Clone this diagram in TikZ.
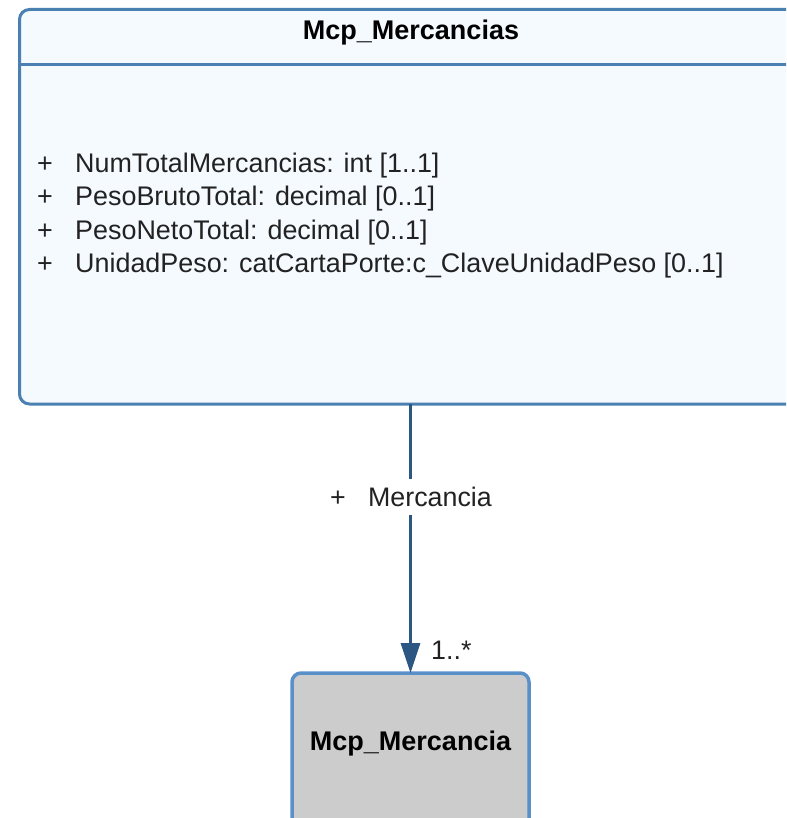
\documentclass[tikz,border=0pt]{standalone}
\usepackage{fontspec}
\setmainfont{Liberation Sans}
\usetikzlibrary{arrows.meta,positioning}
\definecolor{boxfill}{HTML}{F5FAFF}
\definecolor{boxline}{HTML}{4A80B2}
\definecolor{arrowcol}{HTML}{2C5783}
\definecolor{grayfill}{HTML}{CCCCCC}
\definecolor{grayline}{HTML}{5A90C8}
\definecolor{txt}{HTML}{222222}
\tikzset{
  classbox/.style={draw=boxline, fill=boxfill, line width=3pt, rounded corners=10pt, inner sep=0pt, outer sep=0pt, anchor=north west},
  refbox/.style={draw=grayline, fill=grayfill, line width=3.5pt, rounded corners=9pt, inner sep=0pt, outer sep=0pt, anchor=north west},
  title/.style={font=\bfseries\fontsize{27}{30}\selectfont, text=black, inner sep=0pt},
  attr/.style={font=\fontsize{26.9}{30}\selectfont, text=txt, inner sep=0pt, anchor=base west},
  assoc/.style={draw=arrowcol, line width=3pt, -{Triangle[length=30pt,width=19pt]}},
  lbl/.style={font=\fontsize{26.8}{30}\selectfont, text=txt, inner sep=0pt}
}
\begin{document}
\begin{tikzpicture}[x=1pt,y=-1pt]
\useasboundingbox (0,0) rectangle (786,818);
\clip (0,0) rectangle (786,818);
% top class
\node[classbox, minimum width=790pt, minimum height=394.5pt] (top) at (19.5,9.5) {};
\draw[boxline, line width=3pt] (19.5,64.5) -- (820,64.5);
\node[title] (toptitle) at (411,33) {Mcp\_Mercancias};
\node[attr] (p1) at (37,173) {+};
\node[attr] (a1) at (75,173) {NumTotalMercancias: int [1..1]};
\node[attr] (p2) at (37,206) {+};
\node[attr] (a2) at (75,206) {PesoBrutoTotal: decimal [0..1]};
\node[attr] (p3) at (37,239) {+};
\node[attr] (a3) at (75,239) {PesoNetoTotal: decimal [0..1]};
\node[attr] (p4) at (37,272) {+};
\node[attr] (a4) at (75,272) {UnidadPeso: catCartaPorte:c\_ClaveUnidadPeso [0..1]};
% bottom class
\node[refbox, minimum width=237pt, minimum height=170pt] (bot) at (292,673) {};
\node[title] (bottitle) at (410.5,744) {Mcp\_Mercancia};
% association
\draw[assoc] (top.south -| bot.north) -- (bot.north);
\node[lbl, fill=white, inner xsep=3pt, inner ysep=8pt] (role) at (411,497) {\makebox[38pt][l]{+}Mercancia};
\node[lbl, anchor=base west] (mult) at (431,659) {1..*};
\end{tikzpicture}
\end{document}
